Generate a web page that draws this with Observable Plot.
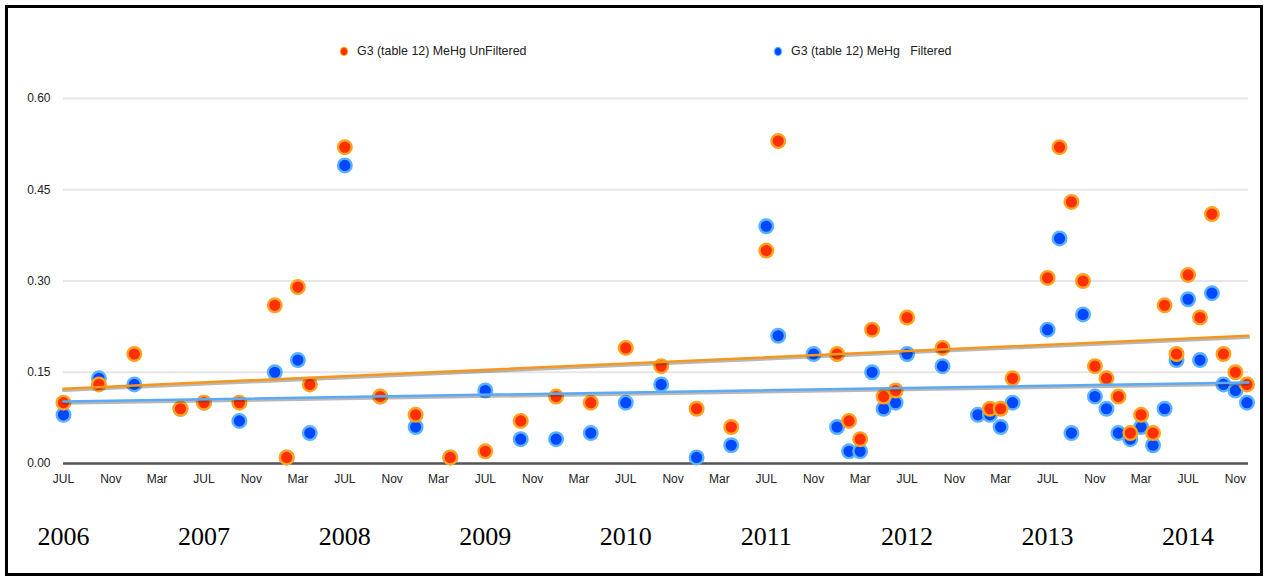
<!DOCTYPE html>
<html><head><meta charset="utf-8">
<script src="https://cdn.jsdelivr.net/npm/d3@7"></script>
<script src="https://cdn.jsdelivr.net/npm/@observablehq/plot@0.6"></script>
<style>
body{margin:0;background:#fff;}
#wrap{position:relative;width:1265px;height:579px;overflow:hidden;font-family:"Liberation Sans",Arial,sans-serif;}
#chart{position:absolute;left:0;top:0;}
#frame{position:absolute;left:5px;top:5px;width:1258px;height:571px;border:3px solid #000;box-sizing:border-box;pointer-events:none;}
.leg{position:absolute;top:44px;font-size:12.4px;color:#222;white-space:pre;line-height:14px;height:14px;}
.leg i{position:absolute;top:4px;width:6px;height:7px;border-radius:50%;}
</style></head>
<body><div id="wrap"><div id="chart"></div>
<div class="leg" id="legU" style="left:357px"></div>
<div class="leg" id="legF" style="left:791px"></div>
<div id="frame"></div></div>
<script>
// ---- data ----
const months = ["2006-07","2006-10","2007-01","2007-05","2007-07","2007-10","2008-01","2008-02","2008-03","2008-04",
  "2008-07","2008-10","2009-01","2009-04","2009-07","2009-10","2010-01","2010-04","2010-07","2010-10",
  "2011-01","2011-04","2011-07","2011-08","2011-11","2012-01","2012-02","2012-03","2012-04","2012-05",
  "2012-06","2012-07","2012-10","2013-01","2013-02","2013-03","2013-04","2013-07","2013-08","2013-09",
  "2013-10","2013-11","2013-12","2014-01","2014-02","2014-03","2014-04","2014-05","2014-06","2014-07",
  "2014-08","2014-09","2014-10","2014-11","2014-12"];
const unfiltered = [0.10,0.13,0.18,0.09,0.10,0.10,0.26,0.01,0.29,0.13,
  0.52,0.11,0.08,0.01,0.02,0.07,0.11,0.10,0.19,0.16,
  0.09,0.06,0.35,0.53,null,0.18,0.07,0.04,0.22,0.11,
  0.12,0.24,0.19,null,0.09,0.09,0.14,0.305,0.52,0.43,
  0.30,0.16,0.14,0.11,0.05,0.08,0.05,0.26,0.18,0.31,
  0.24,0.41,0.18,0.15,0.13];
const filtered = [0.08,0.14,0.13,0.09,0.10,0.07,0.15,0.01,0.17,0.05,
  0.49,0.11,0.06,0.01,0.12,0.04,0.04,0.05,0.10,0.13,
  0.01,0.03,0.39,0.21,0.18,0.06,0.02,0.02,0.15,0.09,
  0.10,0.18,0.16,0.08,0.08,0.06,0.10,0.22,0.37,0.05,
  0.245,0.11,0.09,0.05,0.04,0.06,0.03,0.09,0.17,0.27,
  0.17,0.28,0.13,0.12,0.10];
const seriesNames = ["G3 (table 12) MeHg UnFiltered", "G3 (table 12) MeHg   Filtered"];
const trendUnfiltered = [0.123, 0.210];   // trend line value at start / end of axis
const trendFiltered = [0.102, 0.133];
const yTicks = [0, 0.15, 0.30, 0.45, 0.60];
const monthTickNames = {6: "JUL", 10: "Nov", 2: "Mar"};
const years = [2006, 2007, 2008, 2009, 2010, 2011, 2012, 2013, 2014];
const xStartStr = "2006-07-01", xEndStr = "2014-12-05";

// ---- build ----
const parse = s => new Date(s.length === 7 ? s + "-01T00:00:00Z" : s + "T00:00:00Z");
const xStart = parse(xStartStr), xEnd = parse(xEndStr);
const rows = months.map((m, i) => ({date: parse(m), u: unfiltered[i], f: filtered[i]}));
const trend = [
  {date: xStart, u: trendUnfiltered[0], f: trendFiltered[0]},
  {date: xEnd, u: trendUnfiltered[1], f: trendFiltered[1]}
];
const tickDates = d3.utcMonth.range(xStart, xEnd).filter((d, i) => i % 4 === 0);
const yearDates = years.map(y => new Date(Date.UTC(y, 6, 1)));

const chart = Plot.plot({
  width: 1265, height: 579,
  marginLeft: 63, marginRight: 17, marginTop: 98, marginBottom: 116,
  x: {type: "utc", domain: [xStart, xEnd], label: null},
  y: {domain: [0, 0.6], label: null},
  style: {fontFamily: "'Liberation Sans', Arial, sans-serif", fontSize: "12px", color: "#222", background: "transparent", overflow: "visible"},
  marks: [
    Plot.gridY(yTicks, {stroke: "#e6e6e6", strokeOpacity: 1, strokeWidth: 2}),
    Plot.axisY(yTicks, {tickSize: 0, tickPadding: 13, tickFormat: d => d.toFixed(2), fontSize: 12, fill: "#222", label: null}),
    Plot.ruleY([0], {stroke: "#555", strokeWidth: 2.5}),
    Plot.axisX(tickDates, {tickSize: 0, tickPadding: 11, tickFormat: d => monthTickNames[d.getUTCMonth()], fontSize: 12, fill: "#222", label: null}),
    Plot.axisX(yearDates, {tickSize: 0, tickPadding: 63, tickFormat: d => String(d.getUTCFullYear()), fontSize: 26, fontFamily: "'Liberation Serif', 'Times New Roman', serif", fill: "#000", label: null}),
    Plot.dot(rows.filter(d => d.f != null), {x: "date", y: "f", r: 6.8, fill: "#0048ff", stroke: "#5ab2ff", strokeWidth: 2.4}),
    Plot.dot(rows.filter(d => d.u != null), {x: "date", y: "u", r: 6.8, fill: "#ff3000", stroke: "#ffa21e", strokeWidth: 2.4}),
    Plot.line(trend, {x: "date", y: "f", stroke: "#333", strokeOpacity: 0.35, strokeWidth: 3.5, dy: 1.5}),
    Plot.line(trend, {x: "date", y: "f", stroke: "#5aaaf5", strokeWidth: 2.5}),
    Plot.line(trend, {x: "date", y: "u", stroke: "#333", strokeOpacity: 0.35, strokeWidth: 3.5, dy: 1.5}),
    Plot.line(trend, {x: "date", y: "u", stroke: "#f7961e", strokeWidth: 2.5})
  ]
});
document.getElementById("chart").appendChild(chart);

const legU = document.getElementById("legU");
legU.textContent = seriesNames[0];
const iu = document.createElement("i");
iu.style.cssText = "left:-16px;background:#ff3000;box-shadow:0 0 0 1.2px #ffa21e;";
legU.appendChild(iu);
const legF = document.getElementById("legF");
legF.textContent = seriesNames[1];
const ifl = document.createElement("i");
ifl.style.cssText = "left:-16px;background:#0048ff;box-shadow:0 0 0 1.2px #5ab2ff;";
legF.appendChild(ifl);
</script>
</body></html>
